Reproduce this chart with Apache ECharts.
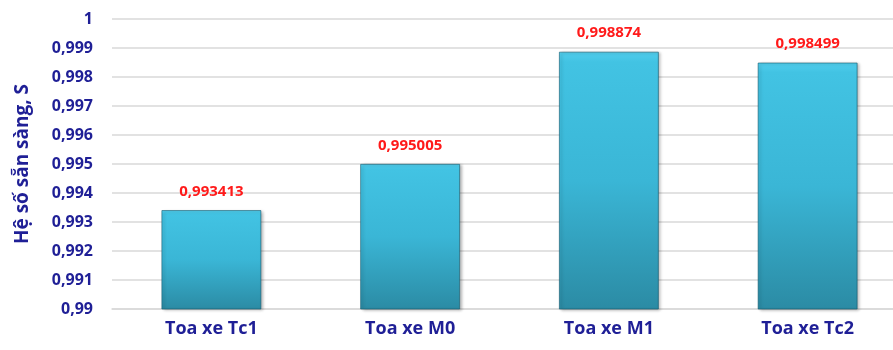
<!DOCTYPE html>
<html>
<head>
<meta charset="utf-8">
<script src="https://cdn.jsdelivr.net/npm/echarts@6/dist/echarts.min.js"></script>
<style>html,body{margin:0;padding:0;background:#fff}#c{width:893px;height:350px}</style>
</head>
<body>
<div id="c"></div>
<script>
const categories = ['Toa xe Tc1', 'Toa xe M0', 'Toa xe M1', 'Toa xe Tc2'];
const values = [0.993413, 0.995005, 0.998874, 0.998499];
const valueLabels = ['0,993413', '0,995005', '0,998874', '0,998499'];
const yAxisTitle = 'Hệ số sẵn sàng, S';
const yMin = 0.99, yMax = 1, yStep = 0.001;

const navy = '#1F1F96';
const font = 'Open Sans';
const chart = echarts.init(document.getElementById('c'), null, {renderer: 'canvas'});
chart.setOption({
  animation: false,
  grid: {left: 112, width: 795, top: 19, bottom: 41, containLabel: false, outerBoundsMode: 'none'},
  xAxis: {
    type: 'category',
    data: categories,
    axisLine: {lineStyle: {color: '#D9D9D9', width: 1.5}},
    axisTick: {show: false},
    axisLabel: {color: navy, fontFamily: font, fontWeight: 'bold', fontSize: 18, margin: 11}
  },
  yAxis: {
    type: 'value',
    min: yMin, max: yMax, interval: yStep,
    name: yAxisTitle,
    nameLocation: 'middle',
    nameGap: 80,
    nameTextStyle: {color: navy, fontFamily: font, fontWeight: 'bold', fontSize: 19},
    axisLine: {show: false},
    axisTick: {show: false},
    splitLine: {lineStyle: {color: '#D9D9D9', width: 1.5}},
    axisLabel: {
      color: navy, fontFamily: font, fontWeight: 'bold', fontSize: 16, margin: 19,
      formatter: v => String(+v.toFixed(3)).replace('.', ',')
    }
  },
  series: [{
    type: 'bar',
    data: values,
    barWidth: 100,
    itemStyle: {
      color: new echarts.graphic.LinearGradient(0, 0, 0, 1, [
        {offset: 0, color: '#52CFEE'},
        {offset: 0.04, color: '#42C3E3'},
        {offset: 0.5, color: '#3AB6D6'},
        {offset: 1, color: '#2B8BA4'}
      ]),
      borderColor: 'rgba(20,90,110,0.6)',
      borderWidth: 1,
      shadowColor: 'rgba(0,0,0,0.3)',
      shadowBlur: 3,
      shadowOffsetX: 2,
      shadowOffsetY: 1
    },
    label: {
      show: true,
      position: 'top',
      distance: 11,
      color: '#FF1A1A',
      fontFamily: font,
      fontWeight: 'bold',
      fontSize: 15,
      formatter: p => valueLabels[p.dataIndex]
    }
  }]
});
</script>
</body>
</html>
